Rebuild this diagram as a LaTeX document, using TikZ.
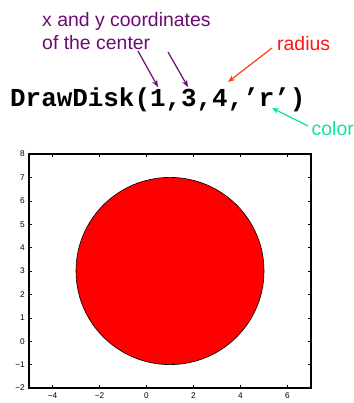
\documentclass[tikz,border=0pt]{standalone}
\usepackage{fontspec}
\setmainfont{Liberation Sans}
\newfontfamily\codefont{Liberation Mono}
\usetikzlibrary{arrows.meta}
\definecolor{lblpurple}{RGB}{110,10,115}
\definecolor{lblred}{RGB}{255,20,20}
\definecolor{arrred}{RGB}{255,60,20}
\definecolor{lblgreen}{RGB}{20,225,160}
\tikzset{
  lbl/.style={anchor=base west, inner sep=0pt, font=\fontsize{19.5}{22}\selectfont},
  ann/.style={line width=1.2bp, -{Stealth[length=7bp,width=5.5bp]}},
  ticklbl/.style={inner sep=0pt, font=\fontsize{8.3}{9}\selectfont},
}
\begin{document}
\begin{tikzpicture}[x=1bp,y=1bp]
\useasboundingbox (0,0) rectangle (354,403);
% labels
\node[lbl, text=lblpurple] (xy) at (42,376.3) {x and y coordinates};
\node[lbl, text=lblpurple] (ctr) at (42,353.7) {of the center};
\node[lbl, text=lblred] (rad) at (277,353) {radius};
\node[lbl, text=lblgreen] (col) at (311.5,268) {color};
\node[anchor=base west, inner sep=0pt, font=\codefont\bfseries\fontsize{26}{28}\selectfont] (code) at (10,297) {DrawDisk(1,3,4,’r’)};
% arrows
\coordinate (a1s) at (138,352); \coordinate (a1e) at (158,316);
\coordinate (a2s) at (168,351); \coordinate (a2e) at (188,316);
\coordinate (a3s) at (272,355); \coordinate (a3e) at (228,321);
\coordinate (a4s) at (308,277); \coordinate (a4e) at (272,295);
\draw[ann, lblpurple] (a1s) -- (a1e);
\draw[ann, lblpurple] (a2s) -- (a2e);
\draw[ann, arrred] (a3s) -- (a3e);
\draw[ann, lblgreen] (a4s) -- (a4e);
% plot
\begin{scope}[shift={(146.5bp,61.8bp)}, x=23.5bp, y=23.4bp]
  \fill[white] (-5,-2) rectangle (7,8);
  \filldraw[fill=red, draw=black, line width=0.6bp] (1,3) circle [x radius=4, y radius=4];
  \foreach \t in {-4,-2,0,2,4,6} {
    \draw[line width=0.5bp] (\t,-2) -- ++(0,3bp);
    \draw[line width=0.5bp] (\t,8) -- ++(0,-3bp);
  }
  \foreach \t in {-1,0,...,7} {
    \draw[line width=0.5bp] (-5,\t) -- ++(3bp,0);
    \draw[line width=0.5bp] (7,\t) -- ++(-3bp,0);
  }
  \draw[line width=1.2bp] (-5,-2) rectangle (7,8);
  \foreach \t/\s in {-4/−4,-2/−2,0/0,2/2,4/4,6/6}
    \node[ticklbl, anchor=north] (xl\t) at ([yshift=-5bp]\t,-2) {\s};
  \foreach \t/\s in {-2/−2,-1/−1,0/0,1/1,2/2,3/3,4/4,5/5,6/6,7/7,8/8}
    \node[ticklbl, anchor=east] (yl\t) at ([xshift=-4bp]-5,\t) {\s};
\end{scope}
\end{tikzpicture}
\end{document}
